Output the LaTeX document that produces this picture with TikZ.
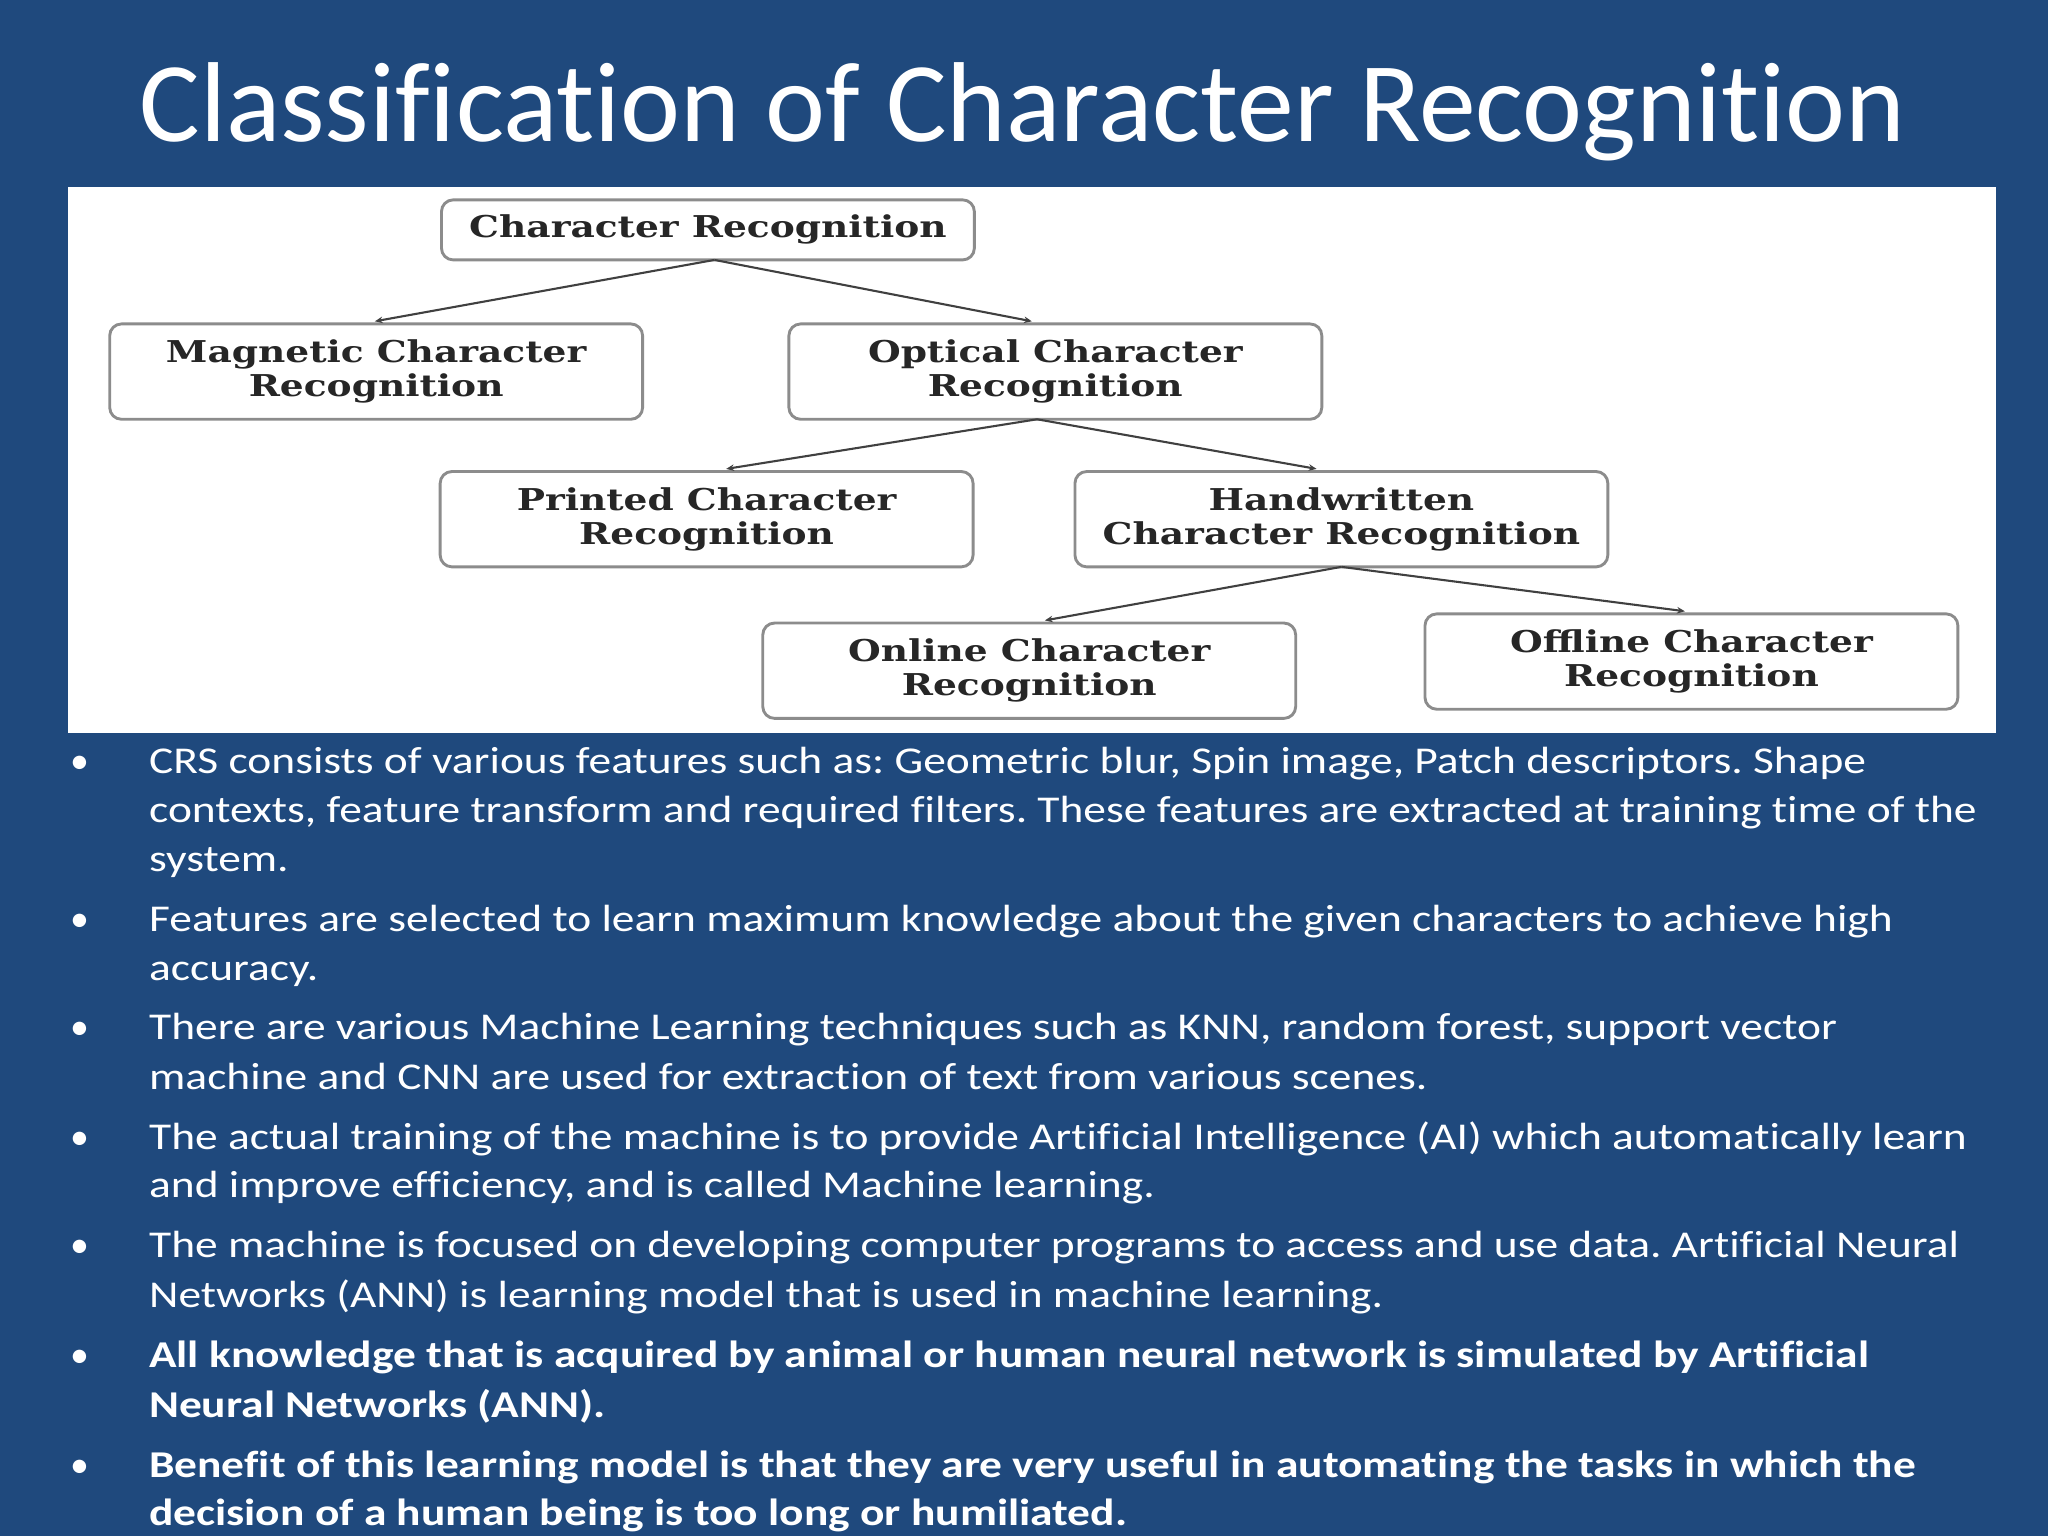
\documentclass[tikz,border=0pt]{standalone}
\usepackage{fontspec}
\setmainfont{Carlito}[Ligatures=NoCommon]
\newfontfamily\bodyfont{Carlito}[Ligatures=NoCommon,FakeStretch=1.2]
\newfontfamily\boxfont{DejaVu Serif}[FakeStretch=1.25]
\usetikzlibrary{arrows.meta}
\definecolor{bg}{RGB}{31,73,125}
\definecolor{bd}{RGB}{140,140,140}
\frenchspacing
\tikzset{
 box/.style={draw=bd,line width=2.2pt,rounded corners=9pt,fill=white,minimum width=408pt,minimum height=73pt,align=center,font=\boxfont\bfseries\fontsize{23}{26}\selectfont,text=black!85,inner sep=0pt},
 link/.style={draw=black!75,line width=1.6pt,-{Stealth[length=6pt,width=5pt]}},
 bl/.style={anchor=base west,text=white,inner sep=0pt,font=\bodyfont\fontsize{29}{36}\selectfont},
 bb/.style={bl,font=\bodyfont\bfseries\fontsize{29}{36}\selectfont},
 dot/.style={anchor=base,text=white,inner sep=0pt,font=\fontsize{29}{36}\selectfont}
}
\begin{document}
\begin{tikzpicture}[x=1pt,y=-1pt]
\fill[bg] (0,0) rectangle (1568,1176);
\useasboundingbox (0,0) rectangle (1568,1176);
\node[text=white,font=\fontsize{87}{90}\selectfont,anchor=base,inner sep=0pt] (title) at (783,108) {Classification of Character Recognition};
\fill[white] (52,143) rectangle (1528,561);
\node[box,minimum height=46pt] (cr) at (542,176) {Character Recognition};
\node[box] (mcr) at (288,284.5) {Magnetic Character\\Recognition};
\node[box] (ocr) at (808,284.5) {Optical Character\\Recognition};
\node[box] (pcr) at (541,397.5) {Printed Character\\Recognition};
\node[box] (hcr) at (1027,397.5) {Handwritten\\Character Recognition};
\node[box] (onl) at (788,513.5) {Online Character\\Recognition};
\node[box] (off) at (1295,506.5) {Offline Character\\Recognition};
\coordinate (c1) at (547,199);
\coordinate (c2) at (794,321);
\coordinate (c3) at (1027,434);
\draw[link] (c1) -- (287,246);
\draw[link] (c1) -- (790,246);
\draw[link] (c2) -- (556,359);
\draw[link] (c2) -- (1008,359);
\draw[link] (c3) -- (800,475);
\draw[link] (c3) -- (1290,468);
\foreach \y in {592,713,796,880,963,1047,1131} \node[dot] at (61,\y) {•};
\node[bl] (l1) at (114,592) {CRS consists of various features such as: Geometric blur, Spin image, Patch descriptors. Shape};
\node[bl] (l2) at (114,630) {contexts, feature transform and required filters. These features are extracted at training time of the};
\node[bl] (l3) at (114,667) {system.};
\node[bl] (l4) at (114,713) {Features are selected to learn maximum knowledge about the given characters to achieve high};
\node[bl] (l5) at (114,751) {accuracy.};
\node[bl] (l6) at (114,796) {There are various Machine Learning techniques such as KNN, random forest, support vector};
\node[bl] (l7) at (114,834) {machine and CNN are used for extraction of text from various scenes.};
\node[bl] (l8) at (114,880) {The actual training of the machine is to provide Artificial Intelligence (AI) which automatically learn};
\node[bl] (l9) at (114,917) {and improve efficiency, and is called Machine learning.};
\node[bl] (l10) at (114,963) {The machine is focused on developing computer programs to access and use data. Artificial Neural};
\node[bl] (l11) at (114,1001) {Networks (ANN) is learning model that is used in machine learning.};
\node[bb] (l12) at (114,1047) {All knowledge that is acquired by animal or human neural network is simulated by Artificial};
\node[bb] (l13) at (114,1085) {Neural Networks (ANN).};
\node[bb] (l14) at (114,1131) {Benefit of this learning model is that they are very useful in automating the tasks in which the};
\node[bb] (l15) at (114,1168) {decision of a human being is too long or humiliated.};
\end{tikzpicture}
\end{document}
